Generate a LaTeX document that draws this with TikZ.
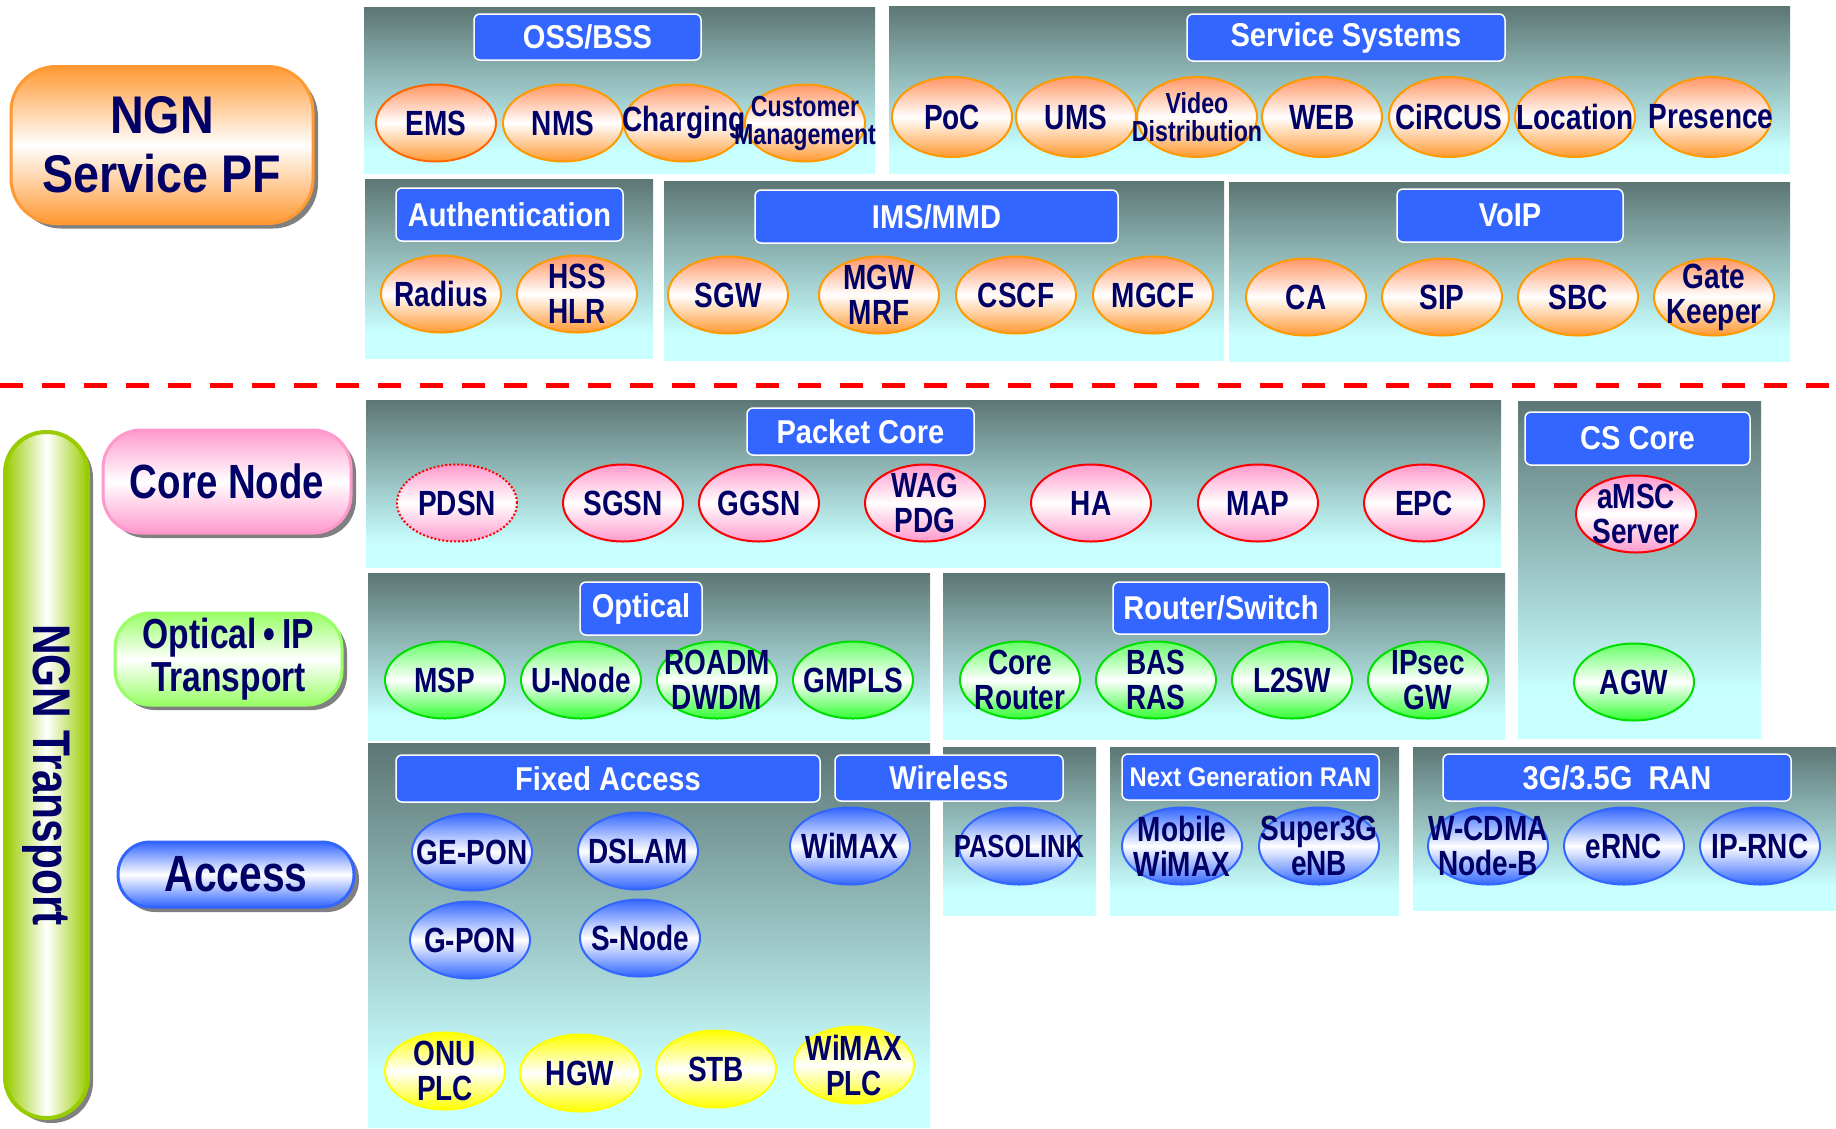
\documentclass[tikz,border=0pt]{standalone}
\usepackage{fontspec}
\setmainfont{Liberation Sans}[FakeStretch=0.8]
\newfontfamily\headfont{Liberation Sans}[FakeStretch=0.88]
\usetikzlibrary{shapes.geometric,shadows}

\definecolor{ink}{RGB}{0,0,102}
\definecolor{paneltop}{RGB}{92,118,116}
\definecolor{panelbot}{RGB}{200,255,255}
\definecolor{headblue}{RGB}{51,102,255}
\definecolor{peach}{RGB}{255,150,100}
\definecolor{tangerine}{RGB}{255,153,51}
\definecolor{amber}{RGB}{255,153,0}
\definecolor{rose}{RGB}{255,153,204}
\definecolor{mint}{RGB}{102,255,102}
\definecolor{leaf}{RGB}{51,255,51}
\definecolor{leafline}{RGB}{0,221,0}
\definecolor{sky}{RGB}{51,102,255}
\definecolor{lemon}{RGB}{255,255,0}
\definecolor{lime}{RGB}{153,204,0}
\definecolor{limefill}{RGB}{153,255,102}
\definecolor{shadowgray}{RGB}{128,128,128}

% background fade of the boxes, light at the bottom
\pgfdeclareverticalshading{panelfade}{100bp}{color(0bp)=(panelbot); color(32bp)=(panelbot); color(75bp)=(paneltop); color(100bp)=(paneltop)}

\begin{document}
\begin{tikzpicture}[x=1pt,y=-1pt,
    panel/.style={shading=panelfade},
    headbox/.style={draw=white,line width=1.5pt,fill=headblue,rounded corners=6pt,
        text=white,inner sep=0pt,font=\headfont\bfseries\fontsize{33}{33}\selectfont},
    % negative inner sep keeps every oval at its minimum size
    unit/.style={ellipse,minimum width=120pt,minimum height=77pt,inner sep=-70pt,
        line width=2pt,text=ink,align=center,font=\bfseries\fontsize{35}{35}\selectfont},
    svc/.style={unit,draw=amber,top color=peach,bottom color=tangerine,middle color=white},
    core/.style={unit,draw=red,top color=rose,bottom color=rose,middle color=white},
    trans/.style={unit,draw=leafline,top color=mint,bottom color=leaf,middle color=white},
    acc/.style={unit,draw=sky,top color=sky,bottom color=sky,middle color=white},
    home/.style={unit,draw=lemon,top color=lemon,bottom color=lemon,middle color=white},
    small/.style={font=\bfseries\fontsize{29}{28}\selectfont},
    layer/.style={line width=3pt,text=ink,align=center,inner sep=0pt,
        drop shadow={shadow xshift=5pt,shadow yshift=-5pt,fill=shadowgray,opacity=1}}]

    \useasboundingbox (0,0) rectangle (1836,1128);

    % NGN service platform
    \node[layer,draw=tangerine,top color=tangerine,bottom color=tangerine,middle color=white,
        minimum width=302pt,minimum height=157pt,rounded corners=45pt,
        font=\headfont\bfseries\fontsize{53}{59}\selectfont] (svcpf) at (162,145) {NGN\\Service PF};

    % OSS/BSS
    \shade[panel] (364,7) rectangle (875,173);
    \node[headbox,minimum width=227pt,minimum height=46pt] (oss) at (587.5,37) {OSS/BSS};
    \node[svc,draw=orange!80!red] (ems) at (436,123) {EMS};
    \node[svc] (nms) at (563,123) {NMS};
    \node[svc] (charging) at (684,123) {Charging};
    \node[svc,small] (custmgmt) at (805,123) {Customer\\Management};

    % Service systems
    \shade[panel] (889,6) rectangle (1790,173);
    \node[headbox,minimum width=318pt,minimum height=47pt] (servsys) at (1346,37.5) {Service Systems};
    \node[svc,minimum height=80pt] (poc) at (952,117) {PoC};
    \node[svc,minimum height=80pt] (ums) at (1076,117) {UMS};
    \node[svc,small,minimum height=80pt] (video) at (1197,117) {Video\\Distribution};
    \node[svc,minimum height=80pt] (web) at (1322,117) {WEB};
    \node[svc,minimum height=80pt] (circus) at (1449,117) {CiRCUS};
    \node[svc,minimum height=80pt] (location) at (1575,117) {Location};
    \node[svc,minimum height=80pt] (presence) at (1711,117) {Presence};

    % Authentication
    \shade[panel] (365,179) rectangle (653,358);
    \node[headbox,minimum width=227pt,minimum height=53pt] (auth) at (509.5,214.5) {Authentication};
    \node[svc] (radius) at (441,294) {Radius};
    \node[svc] (hss) at (577,294) {HSS\\HLR};

    % IMS/MMD
    \shade[panel] (664,181) rectangle (1224,360);
    \node[headbox,minimum width=363pt,minimum height=53pt] (ims) at (936.5,216.5) {IMS/MMD};
    \node[svc] (sgw) at (728,295) {SGW};
    \node[svc] (mgw) at (879,295) {MGW\\MRF};
    \node[svc] (cscf) at (1016,295) {CSCF};
    \node[svc] (mgcf) at (1153,295) {MGCF};

    % VoIP
    \shade[panel] (1229,182) rectangle (1790,361);
    \node[headbox,minimum width=226pt,minimum height=53pt] (voip) at (1510,215.5) {VoIP};
    \node[svc] (ca) at (1306,297) {CA};
    \node[svc] (sip) at (1442,297) {SIP};
    \node[svc] (sbc) at (1578,297) {SBC};
    \node[svc] (gatekeeper) at (1714,297) {Gate\\Keeper};

    % border between service and transport
    \coordinate (splitL) at (0,385);
    \coordinate (splitR) at (1836,385);
    \draw[red,line width=5pt,dash pattern=on 23pt off 19pt] (splitL) -- (splitR);

    % NGN transport bar
    \node[layer,line width=4pt,draw=lime,left color=lime,right color=lime,middle color=white,
        minimum width=83pt,minimum height=686pt,rounded corners=41pt] (transport) at (46.5,775) {};
    \node[rotate=-90,text=ink,font=\bfseries\fontsize{53}{53}\selectfont] (transportlabel)
        at (transport.center) {NGN Transport};

    % layer labels
    \node[layer,draw=rose,top color=rose,bottom color=rose,middle color=white,
        minimum width=248pt,minimum height=103pt,rounded corners=38pt,
        font=\bfseries\fontsize{48}{48}\selectfont] (corenode) at (227,481.5) {Core Node};
    \node[layer,draw=limefill,top color=limefill,bottom color=limefill,middle color=white,
        minimum width=227pt,minimum height=92pt,rounded corners=35pt,
        font=\bfseries\fontsize{42}{43}\selectfont] (optip) at (228.5,659) {Optical\,•\,IP\\Transport};
    \node[layer,draw=sky,top color=sky,bottom color=sky,middle color=white,
        minimum width=236pt,minimum height=65pt,rounded corners=32pt,
        font=\bfseries\fontsize{51}{51}\selectfont] (access) at (236,874.5) {Access};

    % Packet core
    \shade[panel] (366,400) rectangle (1501,567);
    \node[headbox,minimum width=227pt,minimum height=47pt] (pktcore) at (860.5,431.5) {Packet Core};
    \node[core,dash pattern=on 2pt off 2pt] (pdsn) at (457,503) {PDSN};
    \node[core] (sgsn) at (623,503) {SGSN};
    \node[core] (ggsn) at (759,503) {GGSN};
    \node[core] (wag) at (925,503) {WAG\\PDG};
    \node[core] (ha) at (1091,503) {HA};
    \node[core] (map) at (1258,503) {MAP};
    \node[core] (epc) at (1424,503) {EPC};

    % CS core
    \shade[panel] (1518,401) rectangle (1761,738);
    \node[headbox,minimum width=225pt,minimum height=53pt] (cscore) at (1637.5,438.5) {CS Core};
    \node[core] (amsc) at (1636,514) {aMSC\\Server};
    \node[trans] (agw) at (1634,682) {AGW};

    % Optical
    \shade[panel] (368,573) rectangle (930,740);
    \node[headbox,minimum width=122pt,minimum height=53pt] (optical) at (641,608.5) {Optical};
    \node[trans] (msp) at (445,680) {MSP};
    \node[trans] (unode) at (581,680) {U-Node};
    \node[trans] (roadm) at (717,680) {ROADM\\DWDM};
    \node[trans] (gmpls) at (853,680) {GMPLS};

    % Router/Switch
    \shade[panel] (943,573) rectangle (1505,739);
    \node[headbox,minimum width=216pt,minimum height=52pt] (router) at (1221,608) {Router/Switch};
    \node[trans] (corerouter) at (1020,680) {Core\\Router};
    \node[trans] (bas) at (1156,680) {BAS\\RAS};
    \node[trans] (ltwosw) at (1292,680) {L2SW};
    \node[trans] (ipsec) at (1428,680) {IPsec\\GW};

    % Access networks
    \shade[panel] (368,743) rectangle (930,1127);
    \shade[panel] (943,747) rectangle (1096,915);
    \shade[panel] (1110,747) rectangle (1399,915);
    \shade[panel] (1413,747) rectangle (1836,910);
    \node[headbox,minimum width=424pt,minimum height=47pt] (fixed) at (608,778.5) {Fixed Access};
    \node[headbox,minimum width=228pt,minimum height=46pt] (wireless) at (949,778) {Wireless};
    \node[headbox,minimum width=257pt,minimum height=46pt,
        font=\headfont\bfseries\fontsize{27}{27}\selectfont] (ngran) at (1250.5,777) {Next Generation RAN};
    \node[headbox,minimum width=348pt,minimum height=47pt] (ran) at (1617,777.5) {3G/3.5G\ \ RAN};

    \node[acc] (gepon) at (472,852) {GE-PON};
    \node[acc] (dslam) at (638,851) {DSLAM};
    \node[acc] (wimax) at (850,846) {WiMAX};
    \node[acc] (gpon) at (470,940) {G-PON};
    \node[acc] (snode) at (640,938) {S-Node};
    \node[acc,font=\bfseries\fontsize{32}{32}\selectfont] (pasolink) at (1019,846) {PASOLINK};
    \node[acc] (mobwimax) at (1182,846) {Mobile\\WiMAX};
    \node[acc] (super) at (1319,846) {Super3G\\eNB};
    \node[acc] (wcdma) at (1488,846) {W-CDMA\\Node-B};
    \node[acc] (ernc) at (1624,846) {eRNC};
    \node[acc] (iprnc) at (1760,846) {IP-RNC};

    % home devices
    \node[home] (onu) at (445,1071) {ONU\\PLC};
    \node[home] (hgw) at (580,1073) {HGW};
    \node[home] (stb) at (716,1069) {STB};
    \node[home] (wimaxplc) at (854,1065) {WiMAX\\PLC};
\end{tikzpicture}
\end{document}
